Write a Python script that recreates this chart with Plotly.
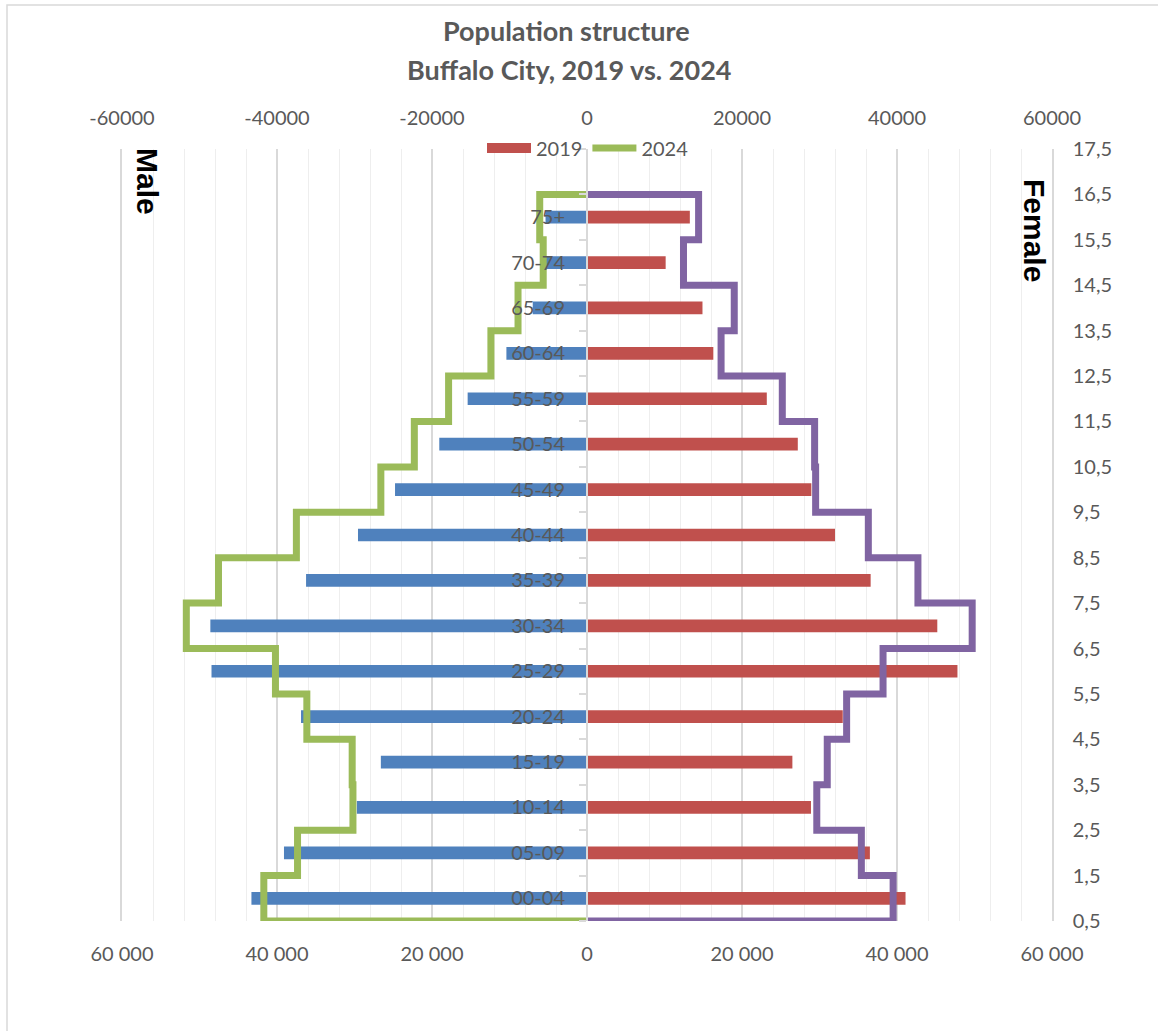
import numpy as np
import plotly.graph_objects as go

# ---------------- data ----------------
categories = ["00-04", "05-09", "10-14", "15-19", "20-24", "25-29", "30-34", "35-39",
              "40-44", "45-49", "50-54", "55-59", "60-64", "65-69", "70-74", "75+"]
male_2019 = [43300, 39100, 29700, 26600, 36900, 48450, 48600, 36250,
             29550, 24770, 19060, 15400, 10400, 7000, 5400, 5350]
female_2019 = [41100, 36500, 28900, 26500, 33000, 47800, 45200, 36600,
               32000, 28950, 27200, 23200, 16300, 14900, 10150, 13270]
male_2024 = [41700, 37350, 30200, 30300, 36150, 40200, 51700, 47550,
             37500, 26600, 22280, 17860, 12400, 8900, 5650, 6100]
female_2024 = [39500, 35400, 29650, 31000, 33500, 38200, 49700, 42700,
               36300, 29500, 29370, 25200, 17300, 19000, 12450, 14400]

top_tick_vals = [-60000, -40000, -20000, 0, 20000, 40000, 60000]
top_tick_text = ["-60000", "-40000", "-20000", "0", "20000", "40000", "60000"]
bottom_tick_text = ["60 000", "40 000", "20 000", "0", "20 000", "40 000", "60 000"]
right_tick_vals = [0.5 + i for i in range(18)]
right_tick_text = [f"{v:.1f}".replace(".", ",") for v in right_tick_vals]

title_lines = ["Population structure", "Buffalo City, 2019 vs. 2024"]

# ---------------- derived ----------------
pos = np.arange(1, len(categories) + 1)


def step_path(values):
    xs, ys = [0.0], [0.5]
    for p, v in zip(pos, values):
        xs += [v, v]
        ys += [p - 0.5, p + 0.5]
    xs.append(0.0)
    ys.append(pos[-1] + 0.5)
    return xs, ys


mx, my = step_path([-v for v in male_2024])
fx, fy = step_path(female_2024)

BLUE = "#4F81BD"
RED = "#C0504D"
GREEN = "#9BBB59"
PURPLE = "#8064A2"
TXT = "#595959"
FONT = "Lato, 'Open Sans', sans-serif"

W, H = 1158, 1031
L, T, PW, PH = 122, 149, 930, 772


def px_x(x):
    return (x - L) / PW


def px_y(y):
    return (T + PH - y) / PH


fig = go.Figure()
fig.add_trace(go.Bar(x=[-v for v in male_2019], y=pos, orientation="h", width=0.28,
                     marker=dict(color=BLUE, line=dict(width=0)), name="Male 2019",
                     showlegend=False, xaxis="x", yaxis="y"))
fig.add_trace(go.Bar(x=female_2019, y=pos, orientation="h", width=0.28,
                     marker=dict(color=RED, line=dict(width=0)), name="2019",
                     showlegend=False, xaxis="x", yaxis="y"))
# legend entry for 2019 (wide red box like the reference)
fig.add_trace(go.Scatter(x=[None], y=[None], mode="lines", name="2019",
                         line=dict(color=RED, width=15), xaxis="x2", yaxis="y2"))
fig.add_trace(go.Scatter(x=mx, y=my, mode="lines", name="2024",
                         line=dict(color=GREEN, width=7), xaxis="x2", yaxis="y2"))
fig.add_trace(go.Scatter(x=fx, y=fy, mode="lines", name="Female 2024", showlegend=False,
                         line=dict(color=PURPLE, width=7), xaxis="x2", yaxis="y2"))

annotations = [
    dict(text="<b>" + title_lines[0] + "</b>", xref="paper", yref="paper",
         x=px_x(566), y=px_y(31), xanchor="center", yanchor="middle", showarrow=False,
         font=dict(family=FONT, size=27, color=TXT)),
    dict(text="<b>" + title_lines[1] + "</b>", xref="paper", yref="paper",
         x=px_x(569), y=px_y(69), xanchor="center", yanchor="middle", showarrow=False,
         font=dict(family=FONT, size=27, color=TXT)),
    dict(text="<b>Male</b>", textangle=90, xref="paper", yref="paper",
         x=px_x(148), y=px_y(181), xanchor="center", yanchor="middle", showarrow=False,
         font=dict(family="Liberation Sans, Arial, sans-serif", size=30, color="black")),
    dict(text="<b>Female</b>", textangle=90, xref="paper", yref="paper",
         x=px_x(1035), y=px_y(230), xanchor="center", yanchor="middle", showarrow=False,
         font=dict(family="Liberation Sans, Arial, sans-serif", size=30, color="black")),
]

fig.update_layout(
    width=W, height=H,
    margin=dict(l=L, r=W - L - PW, t=T, b=H - T - PH),
    paper_bgcolor="white", plot_bgcolor="white",
    barmode="overlay",
    font=dict(family=FONT, size=20, color=TXT),
    legend=dict(orientation="h", x=px_x(588), xanchor="center", y=px_y(148), yanchor="middle",
                font=dict(family=FONT, size=20, color=TXT), bgcolor="rgba(0,0,0,0)",
                itemwidth=44, traceorder="normal"),
    xaxis=dict(range=[-60000, 60000], tickmode="array", tickvals=top_tick_vals,
               ticktext=bottom_tick_text, showgrid=True, gridcolor="#d9d9d9", gridwidth=1.5,
               zeroline=False, showline=False, ticks="", ticklabelstandoff=19,
               minor=dict(dtick=4000, showgrid=True, gridcolor="#eeeeee", gridwidth=1),
               tickfont=dict(size=20, color=TXT), fixedrange=True),
    xaxis2=dict(range=[-60000, 60000], overlaying="x", side="top", anchor="y",
                tickmode="array", tickvals=top_tick_vals, ticktext=top_tick_text,
                showgrid=False, zeroline=False, showline=False, ticks="",
                ticklabelstandoff=19, tickfont=dict(size=20, color=TXT)),
    yaxis=dict(range=[0.5, 17.5], tickmode="array", tickvals=list(pos), ticktext=categories,
               anchor="free", position=0.5, showline=True, linecolor="#d9d9d9", linewidth=2,
               ticks="", showgrid=False, zeroline=False, ticklabelstandoff=17,
               minor=dict(tickmode="array", tickvals=right_tick_vals, ticks="outside",
                          ticklen=7, tickwidth=1.5, tickcolor="#d9d9d9", showgrid=False),
               tickfont=dict(size=20, color=TXT)),
    yaxis2=dict(range=[0.5, 17.5], overlaying="y", side="right", anchor="x",
                tickmode="array", tickvals=right_tick_vals, ticktext=right_tick_text,
                showgrid=False, zeroline=False, showline=True, mirror=True,
                linecolor="#d9d9d9", linewidth=1.5, ticks="",
                ticklabelstandoff=15, tickfont=dict(size=20, color=TXT)),
    annotations=annotations,
    shapes=[dict(type="rect", xref="paper", yref="paper",
                 x0=px_x(7), x1=px_x(1175), y0=px_y(1045), y1=px_y(5),
                 line=dict(color="#d9d9d9", width=1.5), layer="below")],
)

fig.write_html("out.html", config={"displayModeBar": False},
               post_script="document.body.style.margin='0';")
